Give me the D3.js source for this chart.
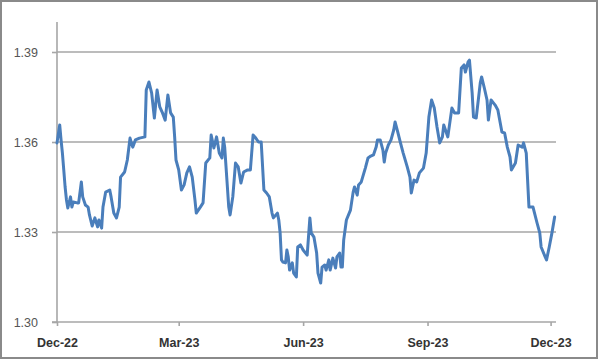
<!DOCTYPE html>
<html>
<head>
<meta charset="utf-8">
<script src="https://d3js.org/d3.v7.min.js"></script>
<style>
  html, body { margin: 0; padding: 0; background: #fff; }
  svg { display: block; }
</style>
</head>
<body>
<svg id="chart" width="600" height="361"></svg>
<script>
// days after 1 Dec 2022
var startDate = "2022-12-01";
var dayOffsets = [
  0, 2, 3, 4, 5, 6, 7, 8, 10, 11, 12, 15, 16, 18, 19, 21, 23, 24, 26, 28,
  30, 31, 33, 34, 36, 39, 40, 42, 44, 46, 47, 50, 52, 54, 56, 58, 61, 65, 66, 68,
  70, 72, 74, 76, 78, 80, 82, 84, 86, 87, 88, 90, 92, 94, 96, 98, 100, 102, 103, 106,
  108, 110, 113, 114, 116, 118, 120, 122, 123, 124, 126, 127, 128, 130, 132, 134, 136, 138, 141, 143,
  145, 147, 149, 151, 153, 155, 157, 159, 160, 163, 164, 165, 166, 167, 169, 170, 171, 172, 174, 175,
  177, 178, 180, 182, 185, 187, 188, 190, 192, 193, 195, 196, 198, 199, 201, 202, 204, 206, 207, 209,
  210, 211, 212, 214, 217, 219, 220, 222, 223, 225, 228, 230, 232, 234, 236, 237, 239, 241, 242, 243,
  245, 247, 249, 250, 252, 254, 256, 259, 261, 262, 264, 266, 268, 271, 273, 275, 277, 279, 281, 283,
  285, 286, 288, 289, 292, 294, 297, 299, 301, 302, 304, 305, 307, 308, 310, 313, 314, 316, 318, 319,
  321, 324, 326, 329, 331, 333, 335, 336, 339, 341, 344, 345, 347, 349, 352, 355, 357, 358, 361, 362,
  364, 366, 368
];
var rates = [
  1.3597, 1.3657, 1.3607, 1.3563, 1.3507, 1.3450, 1.3407, 1.3380, 1.3417, 1.3383, 1.3400, 1.3397, 1.3397, 1.3467, 1.3417, 1.3390, 1.3383, 1.3357, 1.3320, 1.3347,
  1.3317, 1.3340, 1.3313, 1.3383, 1.3433, 1.3440, 1.3417, 1.3363, 1.3347, 1.3383, 1.3483, 1.3500, 1.3540, 1.3613, 1.3583, 1.3607, 1.3613, 1.3617, 1.3773, 1.3800,
  1.3763, 1.3680, 1.3773, 1.3717, 1.3697, 1.3673, 1.3757, 1.3697, 1.3683, 1.3617, 1.3540, 1.3507, 1.3440, 1.3457, 1.3497, 1.3517, 1.3483, 1.3407, 1.3363, 1.3383,
  1.3397, 1.3530, 1.3547, 1.3623, 1.3580, 1.3617, 1.3563, 1.3547, 1.3613, 1.3583, 1.3450, 1.3383, 1.3357, 1.3417, 1.3530, 1.3517, 1.3463, 1.3500, 1.3507, 1.3507,
  1.3623, 1.3613, 1.3600, 1.3600, 1.3440, 1.3430, 1.3417, 1.3363, 1.3347, 1.3363, 1.3340, 1.3297, 1.3207, 1.3200, 1.3197, 1.3240, 1.3217, 1.3173, 1.3197, 1.3163,
  1.3150, 1.3250, 1.3257, 1.3240, 1.3223, 1.3347, 1.3297, 1.3283, 1.3230, 1.3163, 1.3130, 1.3183, 1.3190, 1.3173, 1.3207, 1.3173, 1.3213, 1.3180, 1.3217, 1.3230,
  1.3183, 1.3183, 1.3273, 1.3340, 1.3373, 1.3433, 1.3450, 1.3423, 1.3457, 1.3467, 1.3513, 1.3547, 1.3553, 1.3557, 1.3583, 1.3607, 1.3607, 1.3573, 1.3533, 1.3563,
  1.3590, 1.3607, 1.3640, 1.3667, 1.3633, 1.3597, 1.3563, 1.3517, 1.3483, 1.3430, 1.3473, 1.3467, 1.3497, 1.3513, 1.3563, 1.3683, 1.3740, 1.3713, 1.3650, 1.3597,
  1.3617, 1.3657, 1.3630, 1.3617, 1.3713, 1.3697, 1.3697, 1.3847, 1.3857, 1.3833, 1.3867, 1.3873, 1.3763, 1.3683, 1.3680, 1.3797, 1.3817, 1.3780, 1.3740, 1.3673,
  1.3740, 1.3723, 1.3707, 1.3633, 1.3630, 1.3583, 1.3550, 1.3507, 1.3530, 1.3590, 1.3583, 1.3597, 1.3563, 1.3383, 1.3383, 1.3330, 1.3297, 1.3250, 1.3217, 1.3207,
  1.3250, 1.3297, 1.3350
];
var yTicks = [1.30, 1.33, 1.36, 1.39];
var xTicks = ["2022-12-01", "2023-03-01", "2023-06-01", "2023-09-01", "2023-12-01"];
var yDomain = [1.30, 1.40];
var xDomain = ["2022-12-01", "2023-12-05"];

var parse = d3.utcParse("%Y-%m-%d");
var fmt = d3.utcFormat("%b-%y");
var start = parse(startDate);
var data = dayOffsets.map(function (d, i) {
  return { date: d3.utcDay.offset(start, d), value: rates[i] };
});

var svg = d3.select("#chart");
var plotLeft = 57, plotRight = 556, plotTop = 22, plotBottom = 322;

var x = d3.scaleUtc().domain(xDomain.map(parse)).range([plotLeft, plotRight]);
var y = d3.scaleLinear().domain(yDomain).range([plotBottom, plotTop]);

// outer frame
svg.append("rect")
  .attr("x", 1).attr("y", 1)
  .attr("width", 596).attr("height", 357)
  .attr("fill", "#fff")
  .attr("stroke", "#8a8a8a")
  .attr("stroke-width", 2);

// gridlines
svg.append("g")
  .selectAll("line")
  .data(yTicks.slice(1))
  .enter()
  .append("line")
  .attr("x1", plotLeft).attr("x2", plotRight)
  .attr("y1", function (d) { return y(d); })
  .attr("y2", function (d) { return y(d); })
  .attr("stroke", "#a6a6a6")
  .attr("stroke-width", 1.6);

// y axis
var yAxis = svg.append("g")
  .attr("transform", "translate(" + plotLeft + ",0)")
  .call(d3.axisLeft(y).tickValues(yTicks).tickSize(5).tickPadding(14)
    .tickFormat(d3.format(".2f")));
yAxis.select(".domain").attr("stroke", "#a6a6a6").attr("stroke-width", 1.6)
  .attr("d", "M0," + plotTop + "V" + plotBottom);
yAxis.selectAll(".tick line").attr("stroke", "#a6a6a6").attr("stroke-width", 1.6);
yAxis.selectAll(".tick text")
  .attr("fill", "#555")
  .style("font-family", "'Liberation Sans', Arial, sans-serif")
  .style("font-size", "12.5px");

// x axis
var xAxis = svg.append("g")
  .attr("transform", "translate(0," + plotBottom + ")")
  .call(d3.axisBottom(x).tickValues(xTicks.map(parse)).tickSize(4).tickPadding(12)
    .tickFormat(fmt));
xAxis.select(".domain").attr("stroke", "#a6a6a6").attr("stroke-width", 1.6)
  .attr("d", "M" + (plotLeft - 5) + ",0H" + plotRight);
xAxis.selectAll(".tick line").attr("stroke", "#a6a6a6").attr("stroke-width", 1.6);
xAxis.selectAll(".tick text")
  .attr("fill", "#333")
  .style("font-family", "'Liberation Sans', Arial, sans-serif")
  .style("font-size", "12.5px")
  .style("font-weight", "bold");

// the rate line
var line = d3.line()
  .x(function (d) { return x(d.date); })
  .y(function (d) { return y(d.value); });

svg.append("path")
  .datum(data)
  .attr("d", line)
  .attr("fill", "none")
  .attr("stroke", "#4a7ebb")
  .attr("stroke-width", 3)
  .attr("stroke-linejoin", "round")
  .attr("stroke-linecap", "round");
</script>
</body>
</html>
